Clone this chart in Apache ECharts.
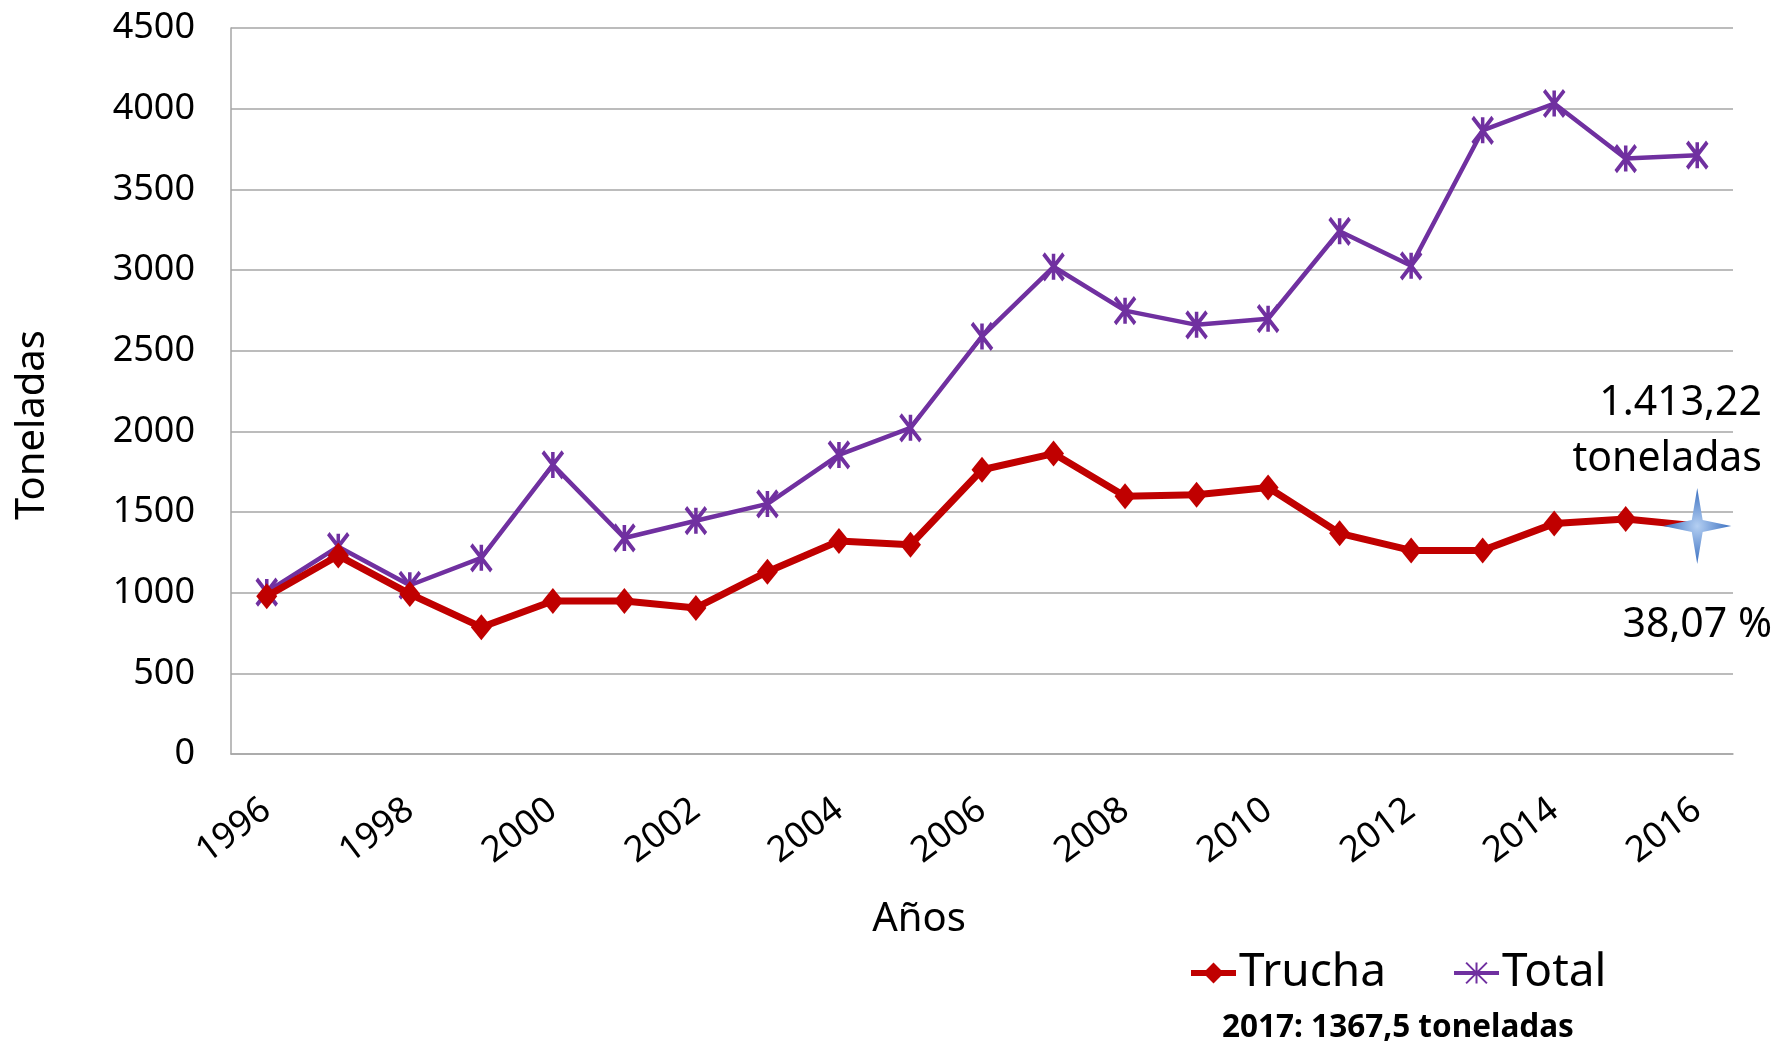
<!DOCTYPE html>
<html>
<head>
<meta charset="utf-8">
<script src="https://cdn.jsdelivr.net/npm/echarts@6/dist/echarts.min.js"></script>
<style>
  html, body { margin: 0; padding: 0; background: #fff; }
  #chart { width: 1779px; height: 1044px; }
</style>
</head>
<body>
<div id="chart"></div>
<script>
// datos
const years = ["1996", "1997", "1998", "1999", "2000", "2001", "2002", "2003", "2004", "2005", "2006",
  "2007", "2008", "2009", "2010", "2011", "2012", "2013", "2014", "2015", "2016"];
const trucha = [978, 1230, 992, 786, 948, 948, 905, 1130, 1320, 1297, 1762,
  1862, 1598, 1607, 1652, 1368, 1262, 1262, 1428, 1457, 1413.22];
const total = [1004, 1285, 1046, 1216, 1792, 1339, 1446, 1550, 1854, 2022, 2588,
  3020, 2748, 2660, 2698, 3240, 3026, 3866, 4032, 3691, 3712];

const RED = "#c00000";
const PURPLE = "#7030a0";
const GRID = "#a6a6a6";
const FONT = "Noto Sans";

const starPath = "path://M50,0 L58,42 L100,50 L58,58 L50,100 L42,58 L0,50 L42,42 Z";
const xMarker = "path://M0,0 L20,26 M20,0 L0,26 M10,0 L10,26";

const truchaData = trucha.map((v, i) => {
  if (i !== trucha.length - 1) return v;
  // ultimo punto: estrella azul
  return {
    value: v,
    symbol: starPath,
    symbolSize: [68, 76],
    itemStyle: {
      color: {
        type: "radial", x: 0.5, y: 0.5, r: 0.5,
        colorStops: [{ offset: 0, color: "#b4cff2" }, { offset: 1, color: "#3a6fc0" }],
      },
      borderWidth: 0,
    },
    z: 10,
  };
});

const chart = echarts.init(document.getElementById("chart"));
chart.setOption({
  backgroundColor: "#fff",
  animation: false,
  grid: { left: 231, right: 46, top: 28, bottom: 290 },
  legend: {
    left: 1183,
    top: 945,
    itemWidth: 45,
    itemHeight: 26,
    itemGap: 66,
    textStyle: { fontFamily: FONT, fontSize: 46, color: "#000", padding: [0, 0, 0, -2] },
    data: [
      { name: "Trucha", lineStyle: { width: 6 } },
      { name: "Total", lineStyle: { width: 4 } },
    ],
  },
  xAxis: {
    type: "category",
    data: years,
    boundaryGap: true,
    name: "Años",
    nameLocation: "middle",
    nameGap: 146,
    nameTextStyle: { fontFamily: FONT, fontSize: 40, color: "#000", padding: [0, 126, 0, 0] },
    axisLine: { lineStyle: { color: GRID, width: 1.5 } },
    axisTick: { show: false },
    axisLabel: {
      interval: 1,
      rotate: 37,
      margin: 52,
      fontFamily: FONT,
      fontSize: 36,
      color: "#000",
    },
  },
  yAxis: {
    type: "value",
    min: 0,
    max: 4500,
    interval: 500,
    name: "Toneladas",
    nameLocation: "middle",
    nameRotate: 90,
    nameGap: 178,
    nameTextStyle: { fontFamily: FONT, fontSize: 40, color: "#000", padding: [0, 68, 0, 0] },
    axisLine: { show: true, lineStyle: { color: GRID, width: 1.5 } },
    axisTick: { show: false },
    splitLine: { lineStyle: { color: GRID, width: 1.5 } },
    axisLabel: {
      margin: 36, fontFamily: FONT, fontSize: 36, color: "#000",
      formatter: (v) => String(v),
    },
  },
  series: [
    {
      name: "Trucha",
      type: "line",
      data: truchaData,
      symbol: "diamond",
      symbolSize: [21, 26],
      showAllSymbol: true,
      lineStyle: { color: RED, width: 7 },
      itemStyle: { color: RED },
      z: 3,
    },
    {
      name: "Total",
      type: "line",
      data: total,
      symbol: xMarker,
      symbolSize: [20, 26],
      showAllSymbol: true,
      lineStyle: { color: PURPLE, width: 4.5 },
      itemStyle: { color: PURPLE, borderColor: PURPLE, borderWidth: 4 },
      z: 2,
    },
  ],
  graphic: [
    {
      type: "text", right: 17, top: 383,
      style: { text: "1.413,22", fontFamily: FONT, fontSize: 41, fill: "#000", textAlign: "right" },
    },
    {
      type: "text", right: 17, top: 439,
      style: { text: "toneladas", fontFamily: FONT, fontSize: 41, fill: "#000", textAlign: "right" },
    },
    {
      type: "text", right: 7, top: 605,
      style: { text: "38,07 %", fontFamily: FONT, fontSize: 41, fill: "#000", textAlign: "right" },
    },
    {
      type: "text", left: 1222, top: 1012,
      style: { text: "2017: 1367,5 toneladas", fontFamily: FONT, fontSize: 31.5, fontWeight: "bold", fill: "#000" },
    },
  ],
});
</script>
</body>
</html>
